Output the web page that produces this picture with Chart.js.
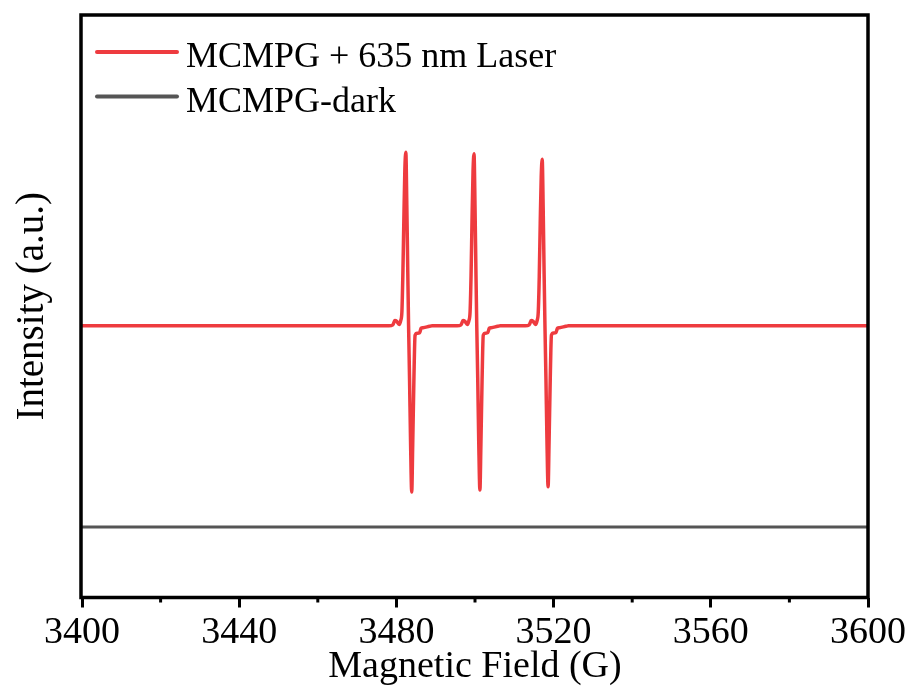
<!DOCTYPE html>
<html><head><meta charset="utf-8">
<script src="https://cdn.jsdelivr.net/npm/chart.js@4.4.0/dist/chart.umd.min.js"></script>
<style>html,body{margin:0;padding:0;background:#fff}canvas{display:block}</style>
</head><body>
<canvas id="c" width="911" height="695"></canvas>
<script>
const fieldLaser = [3400,
  3478.1,3479.1,3479.6,3480.1,3480.7,3481.1,3481.4,3481.65,3481.9,3482.15,3482.4,3482.65,3482.9,3483.1,3483.35,3483.6,3483.9,3484.15,3484.45,3484.75,3485.3,3485.9,3486.3,3486.8,3488.4,3489.1,
  3495.45,3496.45,3496.95,3497.45,3498.05,3498.45,3498.75,3499.0,3499.25,3499.5,3499.75,3500.0,3500.25,3500.45,3500.7,3500.95,3501.25,3501.5,3501.8,3502.1,3502.65,3503.25,3503.65,3504.15,3505.75,3506.45,
  3512.8,3513.8,3514.3,3514.8,3515.4,3515.8,3516.1,3516.35,3516.6,3516.85,3517.1,3517.35,3517.6,3517.8,3518.05,3518.3,3518.6,3518.85,3519.15,3519.45,3520.0,3520.6,3521.0,3521.5,3523.1,3523.8,
  3600];
const intensityLaser = [0,
  0,0.005,0.03,0.025,0.008,0.03,0.08,0.3,0.61,0.89,0.99,0.69,0.3,0,-0.31,-0.66,-0.949,-0.68,-0.31,-0.055,-0.043,-0.04,-0.014,-0.011,-0.003,0,
  0,0.005,0.03,0.025,0.008,0.03,0.08,0.29,0.61,0.88,0.982,0.69,0.29,0,-0.31,-0.66,-0.938,-0.68,-0.31,-0.054,-0.042,-0.039,-0.014,-0.011,-0.003,0,
  0,0.005,0.03,0.025,0.008,0.03,0.08,0.28,0.59,0.85,0.95,0.67,0.28,0,-0.3,-0.64,-0.919,-0.66,-0.3,-0.053,-0.041,-0.038,-0.014,-0.011,-0.003,0,
  0];
const fieldDark = [3400, 3600];
const intensityDark = [-1.149, -1.149];
const majorTicks = [3400, 3440, 3480, 3520, 3560, 3600];
const minorTicks = [3420, 3460, 3500, 3540, 3580];
const seriesLabels = ['MCMPG + 635 nm Laser', 'MCMPG-dark'];
const seriesColors = ['#EE3B3F', '#555555'];
const xTitle = 'Magnetic Field (G)';
const yTitle = 'Intensity (a.u.)';

const FONT = '"Liberation Serif", "Times New Roman", serif';
Chart.defaults.font.family = FONT;
Chart.defaults.color = '#000';

const framePlugin = {
  id: 'frame',
  afterDraw(chart) {
    const {ctx, chartArea: a, scales: {x}} = chart;
    ctx.save();
    ctx.strokeStyle = '#000';
    ctx.lineWidth = 3;
    minorTicks.forEach(v => {
      const px = x.getPixelForValue(v);
      ctx.beginPath(); ctx.moveTo(px, a.bottom); ctx.lineTo(px, a.bottom + 5); ctx.stroke();
    });
    ctx.lineWidth = 3.5;
    ctx.strokeRect(a.left - 1, a.top, a.right - a.left + 1, a.bottom - a.top);
    // legend
    ctx.lineWidth = 4;
    ctx.lineCap = 'round';
    ctx.font = '36px ' + FONT;
    ctx.textBaseline = 'alphabetic';
    ctx.textAlign = 'left';
    const rows = [37, 81.5];
    chart.data.datasets.forEach((ds, i) => {
      const y = a.top + rows[i];
      ctx.strokeStyle = ds.borderColor;
      ctx.beginPath(); ctx.moveTo(a.left + 15, y); ctx.lineTo(a.left + 95, y); ctx.stroke();
      ctx.fillStyle = '#000';
      ctx.fillText(ds.label, a.left + 104, y + 15);
    });
    ctx.restore();
  }
};

new Chart(document.getElementById('c'), {
  type: 'line',
  data: {
    datasets: [
      { label: seriesLabels[0], data: fieldLaser.map((f, i) => ({x: f, y: intensityLaser[i]})),
        borderColor: seriesColors[0], borderWidth: 3.5, pointRadius: 0, borderJoinStyle: 'round',
        cubicInterpolationMode: 'monotone', fill: false },
      { label: seriesLabels[1], data: fieldDark.map((f, i) => ({x: f, y: intensityDark[i]})),
        borderColor: seriesColors[1], borderWidth: 3, pointRadius: 0, fill: false }
    ]
  },
  options: {
    responsive: false,
    animation: false,
    layout: { padding: { top: 15, right: 43, left: 0, bottom: 0 } },
    plugins: { legend: { display: false }, tooltip: { enabled: false } },
    scales: {
      x: {
        type: 'linear', min: 3400, max: 3600,
        afterBuildTicks: s => { s.ticks = majorTicks.map(v => ({value: v})); },
        afterFit: s => { s.height = 97.5; },
        ticks: { font: { size: 38 }, color: '#000', padding: 3, maxRotation: 0, autoSkip: false,
                 callback: v => String(v) },
        grid: { display: true, drawOnChartArea: false, drawTicks: true, tickLength: 10, tickWidth: 3, tickColor: '#000' },
        border: { display: false },
        title: { display: true, text: xTitle, font: { size: 38 }, color: '#000', padding: { top: 0, bottom: 5 } }
      },
      y: {
        type: 'linear', min: -1.551, max: 1.774,
        afterFit: s => { s.width = 82; },
        ticks: { display: false },
        grid: { display: false },
        border: { display: false },
        title: { display: true, text: yTitle, font: { size: 39 }, color: '#000', padding: { top: 9, bottom: 0 } }
      }
    }
  },
  plugins: [framePlugin]
});
</script>
</body></html>
